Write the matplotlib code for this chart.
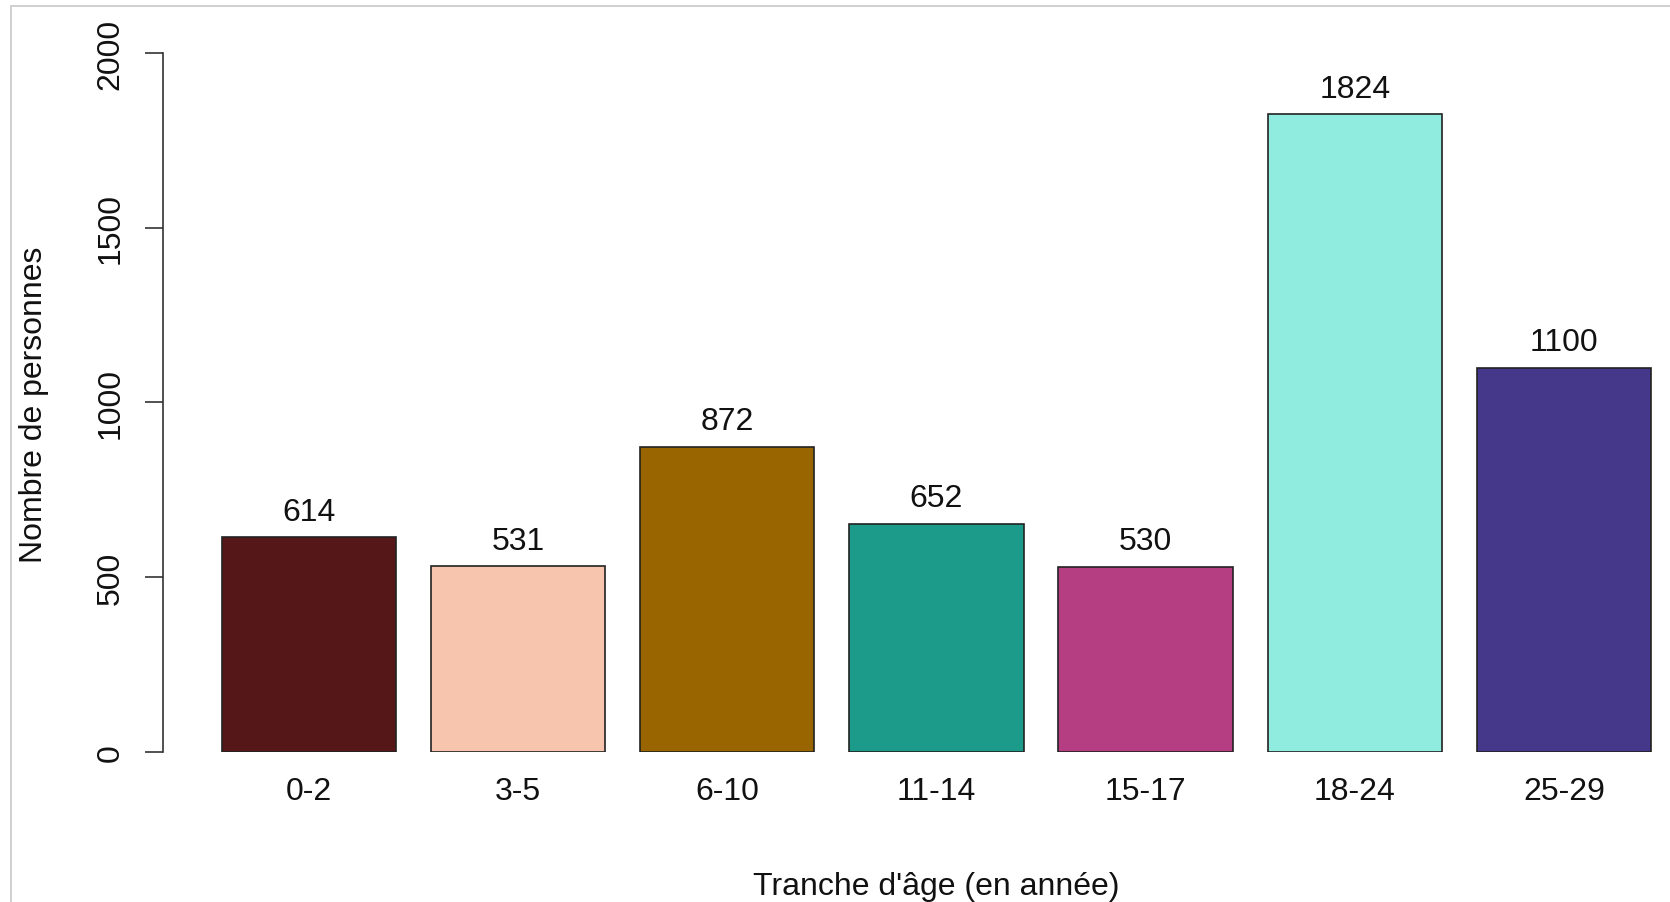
import matplotlib
matplotlib.use("Agg")
import matplotlib.pyplot as plt
from matplotlib.patches import Rectangle
import numpy as np

# data
tranches = ["0-2", "3-5", "6-10", "11-14", "15-17", "18-24", "25-29"]
effectifs = [614, 531, 872, 652, 530, 1824, 1100]
couleurs = ["#561718", "#F7C4AE", "#986500", "#1C9A8A", "#B53E82", "#8FECDF", "#45388B"]
yticks = [0, 500, 1000, 1500, 2000]

plt.rcParams['font.family'] = ['Liberation Sans', 'DejaVu Sans']
fs = 23

W, H = 1670, 903
fig = plt.figure(figsize=(W / 100, H / 100), dpi=100)

# axes placed in pixels: left spine at x=163, y=0 at 753, top at 26
left, bottom, top = 163, 753, 26
ax = fig.add_axes([left / W, 1 - bottom / H, (W - left) / W, (bottom - top) / H])

x = np.arange(len(tranches))
ax.bar(x, effectifs, width=1 / 1.2, color=couleurs, edgecolor="#222222", linewidth=1.2)

# valeurs au-dessus des barres
for xi, v in zip(x, effectifs):
    ax.annotate(str(v), (xi, v), xytext=(0, 12.8), textcoords="offset points",
                ha="center", va="baseline", fontsize=fs, color="#111111")

ax.set_xlim(-0.698, 6.507)
ax.set_ylim(0, 2080)

ax.set_xticks(x)
ax.set_xticklabels(tranches)
ax.tick_params(axis="x", length=0, pad=17, labelsize=fs, labelcolor="#111111")

ax.set_yticks(yticks)
ax.tick_params(axis="y", length=13, width=1.2, pad=14, labelsize=fs,
               labelrotation=90, color="#333333", labelcolor="#111111")
for lab in ax.get_yticklabels():
    lab.set_va("center")

for s in ["top", "right", "bottom"]:
    ax.spines[s].set_visible(False)
ax.spines["left"].set_bounds(0, 2000)
ax.spines["left"].set_linewidth(1.2)
ax.spines["left"].set_color("#333333")

fig.text(34 / W, 1 - 405 / H, "Nombre de personnes", rotation=90,
         ha="center", va="center", fontsize=fs, color="#111111")
fig.text(936 / W, 1 - 895 / H, "Tranche d'âge (en année)",
         ha="center", va="baseline", fontsize=fs, color="#111111")

# cadre gris clair (coupé à droite et en bas)
fig.patches.append(Rectangle((11 / W, -0.1), 1.2, 1.1 - 7 / H, transform=fig.transFigure,
                             fill=False, edgecolor="#c8c8c8", linewidth=1.2))

fig.savefig("out.png", dpi=100)
